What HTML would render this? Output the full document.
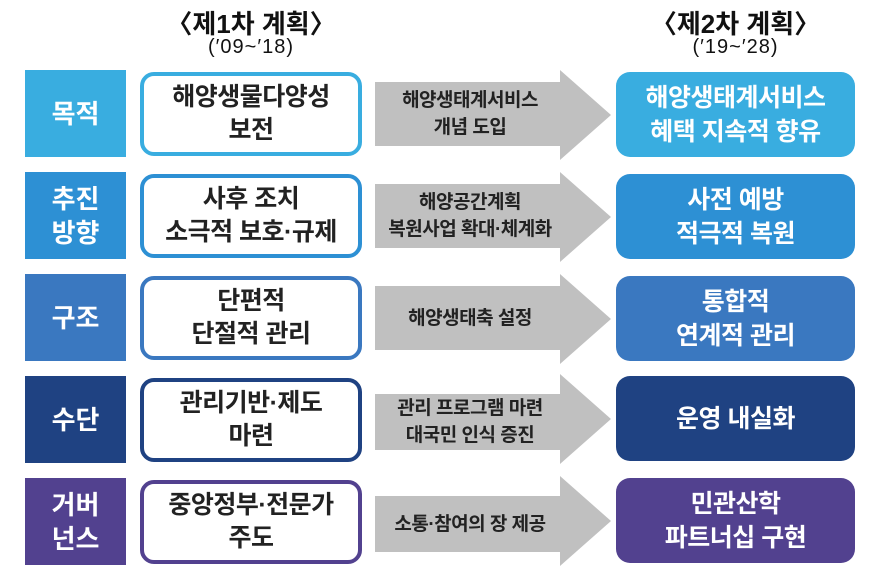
<!DOCTYPE html>
<html><head><meta charset="utf-8"><style>
body{margin:0;width:874px;height:574px;background:#fff;position:relative;overflow:hidden;font-family:"Liberation Sans","Noto Sans CJK KR",sans-serif;font-weight:bold}
.a{position:absolute;display:flex;align-items:center;justify-content:center;text-align:center;box-sizing:border-box;white-space:nowrap}
.lab{left:25px;width:101px;height:87px;color:#fff;font-size:26px;line-height:34px}
.mid{left:140px;width:222px;height:84px;border:4px solid;border-radius:14px;color:#222;font-size:25px;line-height:33px;background:#fff;letter-spacing:-0.5px}
.rt{left:616px;width:239px;height:85px;border-radius:14px;color:#fff;font-size:25px;line-height:34px;letter-spacing:-0.5px}
.arr{position:absolute;left:375px;width:236px}
.at{position:absolute;left:375px;width:190px;display:flex;align-items:center;justify-content:center;text-align:center;font-size:19px;line-height:27px;color:#222;white-space:nowrap;letter-spacing:-0.5px}
.h{position:absolute;text-align:center;color:#111}
</style></head><body>
<div class="h" style="left:140px;width:222px;top:4px;font-size:26px">〈제1차 계획〉</div>
<div class="h" style="left:140px;width:222px;top:36px;font-size:20px;font-weight:normal;letter-spacing:1px">(′09~′18)</div>
<div class="h" style="left:616px;width:239px;top:4px;font-size:26px">〈제2차 계획〉</div>
<div class="h" style="left:616px;width:239px;top:36px;font-size:20px;font-weight:normal;letter-spacing:1px">(′19~′28)</div>

<div class="a lab" style="top:70px;background:#39ade0">목적</div>
<div class="a mid" style="top:72px;border-color:#39ade0">해양생물다양성<br>보전</div>
<svg class="arr" style="top:70px" height="90"><polygon points="0,12 185,12 185,0 236,45 185,90 185,76 0,76" fill="#c0c0c0"/></svg>
<div class="at" style="top:82px;height:64px">해양생태계서비스<br>개념 도입</div>
<div class="a rt" style="top:72px;background:#39ade0">해양생태계서비스<br>혜택 지속적 향유</div>

<div class="a lab" style="top:172px;background:#2d90d4">추진<br>방향</div>
<div class="a mid" style="top:174px;border-color:#2d90d4">사후 조치<br>소극적 보호·규제</div>
<svg class="arr" style="top:172px" height="90"><polygon points="0,12 185,12 185,0 236,45 185,90 185,76 0,76" fill="#c0c0c0"/></svg>
<div class="at" style="top:184px;height:64px">해양공간계획<br>복원사업 확대·체계화</div>
<div class="a rt" style="top:174px;background:#2d90d4">사전 예방<br>적극적 복원</div>

<div class="a lab" style="top:274px;background:#3a78c0">구조</div>
<div class="a mid" style="top:276px;border-color:#3a78c0">단편적<br>단절적 관리</div>
<svg class="arr" style="top:274px" height="90"><polygon points="0,12 185,12 185,0 236,45 185,90 185,76 0,76" fill="#c0c0c0"/></svg>
<div class="at" style="top:286px;height:64px">해양생태축 설정</div>
<div class="a rt" style="top:276px;background:#3a78c0">통합적<br>연계적 관리</div>

<div class="a lab" style="top:376px;background:#1f4282">수단</div>
<div class="a mid" style="top:378px;border-color:#1f4282">관리기반·제도<br>마련</div>
<svg class="arr" style="top:374px" height="90"><polygon points="0,20 185,20 185,0 236,45 185,90 185,76 0,76" fill="#c0c0c0"/></svg>
<div class="at" style="top:392px;height:60px">관리 프로그램 마련<br>대국민 인식 증진</div>
<div class="a rt" style="top:376px;background:#1f4282">운영 내실화</div>

<div class="a lab" style="top:478px;background:#52418f">거버<br>넌스</div>
<div class="a mid" style="top:480px;border-color:#52418f">중앙정부·전문가<br>주도</div>
<svg class="arr" style="top:476px" height="90"><polygon points="0,20 185,20 185,0 236,45 185,90 185,76 0,76" fill="#c0c0c0"/></svg>
<div class="at" style="top:494px;height:60px">소통·참여의 장 제공</div>
<div class="a rt" style="top:478px;background:#52418f">민관산학<br>파트너십 구현</div>
</body></html>
